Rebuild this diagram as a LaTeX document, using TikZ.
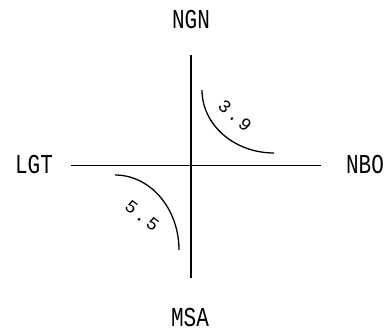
\documentclass[tikz,border=0pt]{standalone}
\usepackage{fontspec}
\newfontfamily\axisfont{Liberation Mono}
\newfontfamily\valuefont[LetterSpace=15]{Liberation Mono}
\usetikzlibrary{positioning}

\begin{document}
\begin{tikzpicture}[
        x=1pt, y=1pt,
        axislabel/.style={font=\axisfont\fontsize{21}{21}\selectfont, inner sep=0pt, yscale=1.3},
        arclabel/.style={font=\valuefont\fontsize{18}{18}\selectfont, inner sep=0pt},
        axisline/.style={line width=0.8pt},
        mainline/.style={line width=1.6pt},
        curve/.style={line width=1.3pt}
    ]
    \useasboundingbox (0,0) rectangle (392,333);

    % --- Axes ---
    \coordinate (top) at (191,278);
    \coordinate (bottom) at (191,55);
    \coordinate (left) at (71,168);
    \coordinate (right) at (321,168);
    \draw[mainline] (top) -- (bottom);
    \draw[axisline] (left) -- (right);

    % --- Labels ---
    \node[axislabel] (ngn) at (191,313) {NGN};
    \node[axislabel] (lgt) at (34,168) {LGT};
    \node[axislabel] (nbo) at (365,168) {NBO};
    \node[axislabel] (msa) at (190,15) {MSA};

    % --- Arcs ---
    \coordinate (arcNE) at (202,243);
    \coordinate (arcSW) at (115,158);
    \draw[curve] (arcNE) arc[start angle=180, end angle=270, x radius=72, y radius=63];
    \draw[curve] (arcSW) arc[start angle=90, end angle=0, x radius=64, y radius=75];
    \node[arclabel, rotate=-42] (valNE) at (235,217) {3.9};
    \node[arclabel, rotate=-38] (valSW) at (142,117) {5.5};

\end{tikzpicture}
\end{document}
